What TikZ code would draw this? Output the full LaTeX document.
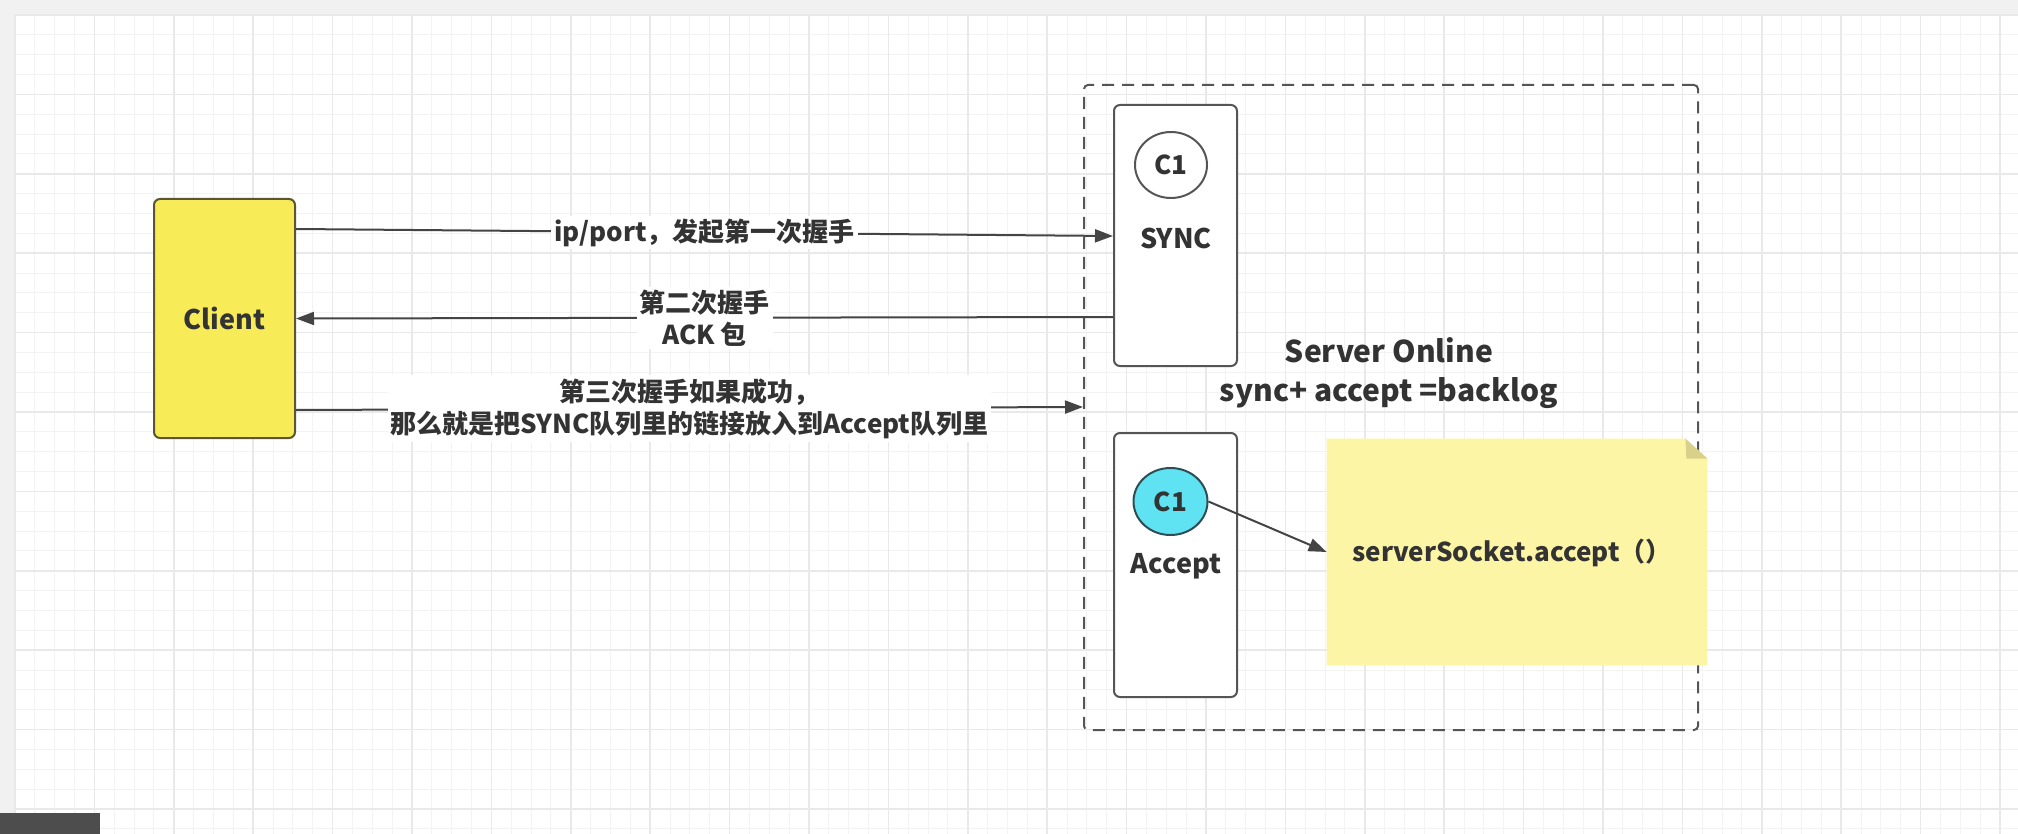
\documentclass[tikz,border=0pt]{standalone}
\usepackage{fontspec}
\setmainfont{Noto Sans CJK SC}
\usetikzlibrary{arrows.meta,calc,shapes.geometric}
\definecolor{outerbg}{HTML}{F1F1F1}
\definecolor{gridminor}{HTML}{F3F3F3}
\definecolor{gridmajor}{HTML}{E9E9E9}
\definecolor{txt}{HTML}{333333}
\definecolor{boxline}{HTML}{555555}
\definecolor{conline}{HTML}{444444}
\definecolor{clientfill}{HTML}{F7EC58}
\definecolor{clientline}{HTML}{5A5634}
\definecolor{cyanfill}{HTML}{5FE3F2}
\definecolor{cyanline}{HTML}{2E4E55}
\definecolor{notefill}{HTML}{FDF5A6}
\definecolor{notefold}{HTML}{D9D08A}
\definecolor{barfill}{HTML}{4D4D4D}
\begin{document}
\begin{tikzpicture}[x=0.5pt,y=-0.5pt,
  every node/.style={text=txt, font=\fontsize{13pt}{16pt}\selectfont\bfseries},
  box/.style={draw=boxline, line width=1pt, rounded corners=3pt, fill=white, inner sep=0pt},
  conn/.style={draw=conline, line width=1pt, -{Triangle[length=9pt,width=6.5pt]}},
  lbl/.style={fill=white, inner sep=1.5pt, align=center},
  minorline/.style={draw=gridminor, line width=0.5pt},
  majorline/.style={draw=gridmajor, line width=0.8pt},
  queuecircle/.style={ellipse, draw=boxline, line width=1pt, fill=white, minimum width=36pt, minimum height=33pt, inner sep=0pt},
  bigtext/.style={font=\fontsize{13.5pt}{16pt}\selectfont\bfseries}
]
\useasboundingbox (0,0) rectangle (2018,834);
\fill[outerbg] (0,0) rectangle (2018,834);
\fill[white] (15,15) rectangle (2018,834);
% grid
\foreach \i in {0,...,100} {
  \pgfmathsetmacro\xx{15+\i*19.85}
  \draw[minorline] (\xx,15) -- (\xx,834);
}
\foreach \j in {0,...,41} {
  \pgfmathsetmacro\yy{15+\j*19.85}
  \draw[minorline] (15,\yy) -- (2018,\yy);
}
\foreach \i in {0,4,...,100} {
  \pgfmathsetmacro\xx{15+\i*19.85}
  \draw[majorline] (\xx,15) -- (\xx,834);
}
\foreach \j in {0,4,...,40} {
  \pgfmathsetmacro\yy{15+\j*19.85}
  \draw[majorline] (15,\yy) -- (2018,\yy);
}
\fill[barfill] (0,813) rectangle (100,834);

% server dashed container
\node[draw=boxline, line width=1pt, dash pattern=on 6pt off 4pt, rounded corners=2pt,
      minimum width=307pt, minimum height=322.5pt, inner sep=0pt] (server) at (1391,407.5) {};

% client
\node[draw=clientline, fill=clientfill, line width=1pt, rounded corners=3pt,
      minimum width=70.5pt, minimum height=119.5pt, inner sep=0pt, bigtext] (client) at (224.5,318.5) {Client};

% SYNC queue
\node[box, minimum width=61.5pt, minimum height=130.5pt] (sync) at (1175.5,235.5) {};
\node[queuecircle] (c1a) at (1171,165) {C1};
\node[bigtext] (synctext) at (1176,238) {SYNC};

% Accept queue
\node[box, minimum width=61.5pt, minimum height=132pt] (accept) at (1175.5,565) {};
\node[queuecircle, fill=cyanfill, draw=cyanline, minimum width=37pt, minimum height=33.5pt] (c1b) at (1170.5,501.5) {C1};
\node[bigtext] (accepttext) at (1176,566) {Accept};

% server label
\node[font=\fontsize{15pt}{19.5pt}\selectfont\bfseries, align=center] (srvlabel) at (1389,373.5) {Server Online\\sync+ accept =backlog};

% note
\node[minimum width=190pt, minimum height=113pt, inner sep=0pt] (note) at (1517,552) {};
\fill[notefill] (note.north west) -- ([xshift=-11pt]note.north east) -- ([yshift=-10pt]note.north east)
  -- (note.south east) -- (note.south west) -- cycle;
\fill[notefold] ([xshift=-11pt]note.north east) -- ([yshift=-10pt]note.north east)
  -- ([xshift=-10.5pt,yshift=-10pt]note.north east) -- cycle;
\node (notetext) at (1512,553) {serverSocket.accept（）};

% connectors
\draw[conn] ([yshift=-15.5pt]client.north east) -- node[lbl] (l1) {ip/port，发起第一次握手} ([yshift=-66pt]sync.north west);
\draw[conn] ([yshift=-106.5pt]sync.north west) -- node[lbl, pos=0.5] (l2) {第二次握手\\ACK 包} (client.east);
\draw[conn] ([yshift=-106pt]client.north east) -- node[lbl, pos=0.5] (l3) {第三次握手如果成功，\\那么就是把SYNC队列里的链接放入到Accept队列里} ([yshift=-161.5pt]server.north west);
\draw[conn] (c1b.east) -- (note.west);
\end{tikzpicture}
\end{document}
